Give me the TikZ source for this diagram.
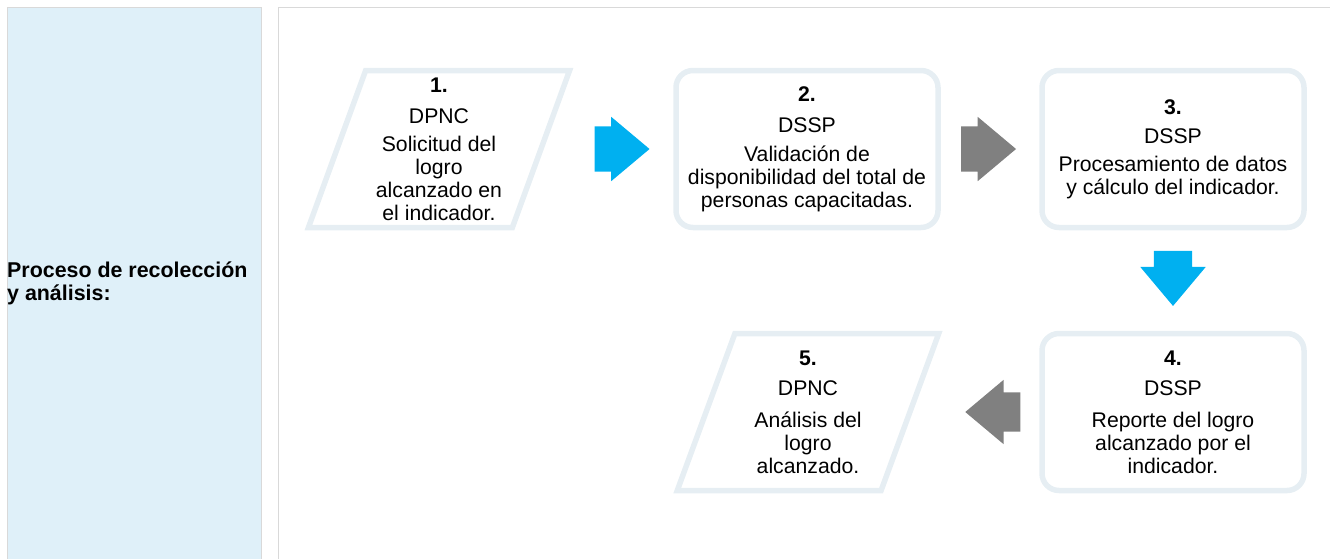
\documentclass[tikz,border=0pt]{standalone}
\usepackage{fontspec}
\setmainfont{Liberation Sans}
\usetikzlibrary{positioning,shapes.geometric,shapes.arrows}
\definecolor{cellblue}{HTML}{DFF0F9}
\definecolor{cellline}{HTML}{D9D9D9}
\definecolor{boxline}{HTML}{E6EEF3}
\definecolor{flowcyan}{HTML}{00B0F0}
\definecolor{flowgray}{HTML}{808080}
\tikzset{
  boxtext/.style={align=center, font=\fontsize{21.2}{23}\selectfont, inner sep=0pt},
  stepbox/.style={boxtext, draw=boxline, line width=5.5pt, rounded corners=17pt, minimum width=262pt, minimum height=157pt},
  iobox/.style={boxtext, draw=boxline, line width=5.5pt, trapezium, trapezium left angle=71, trapezium right angle=109, trapezium stretches=true, minimum width=262pt, minimum height=157pt},
  blockarrow/.style={single arrow, minimum height=55pt, inner xsep=0pt, inner ysep=22.5pt, single arrow head extend=9.5pt, single arrow tip angle=80}
}
\begin{document}
\begin{tikzpicture}
\useasboundingbox (0,0) rectangle (1330pt,-558pt);
% table cells
\fill[cellblue] (7pt,-7pt) rectangle (261pt,-562pt);
\draw[cellline] (7pt,-562pt) -- (7pt,-7pt) -- (261pt,-7pt) -- (261pt,-562pt);
\draw[cellline] (278pt,-562pt) -- (278pt,-7pt) -- (1334pt,-7pt);
\node (lbl) [anchor=west, align=left, inner sep=0pt, font=\bfseries\fontsize{21.4}{23}\selectfont] at (7pt,-283pt) {Proceso de recolección\\y análisis:};

% top row
\node (p1) [iobox] at (439pt,-149pt) {\textbf{1.}\\[8pt]DPNC\\[5pt]Solicitud del\\logro\\alcanzado en\\el indicador.};
\node (a1) [blockarrow, fill=flowcyan, right of=p1, node distance=169.5pt] {};
\node (b2) [stepbox, right of=p1, node distance=368pt] {\textbf{2.}\\[8pt]DSSP\\[6pt]Validación de\\disponibilidad del total de\\personas capacitadas.};
\node (a2) [blockarrow, fill=flowgray, right of=b2, node distance=168pt] {};
\node (b3) [stepbox, right of=b2, node distance=366pt] {\textbf{3.}\\[6pt]DSSP\\[5pt]Procesamiento de datos\\y cálculo del indicador.};

% bottom row
\node (a3) [blockarrow, fill=flowcyan, inner xsep=19pt, inner ysep=0pt, single arrow head extend=13.5pt, shape border rotate=270, below of=b3, node distance=118pt] {};
\node (b4) [stepbox, below of=b3, node distance=263pt] {\textbf{4.}\\[7pt]DSSP\\[9pt]Reporte del logro\\alcanzado por el\\indicador.};
\node (a4) [blockarrow, fill=flowgray, inner ysep=19.5pt, single arrow head extend=12.5pt, shape border rotate=180, left of=b4, node distance=168.5pt] {};
\node (p5) [iobox, left of=b4, node distance=365pt] {\textbf{5.}\\[7pt]DPNC\\[9pt]Análisis del\\logro\\alcanzado.};
\end{tikzpicture}
\end{document}
